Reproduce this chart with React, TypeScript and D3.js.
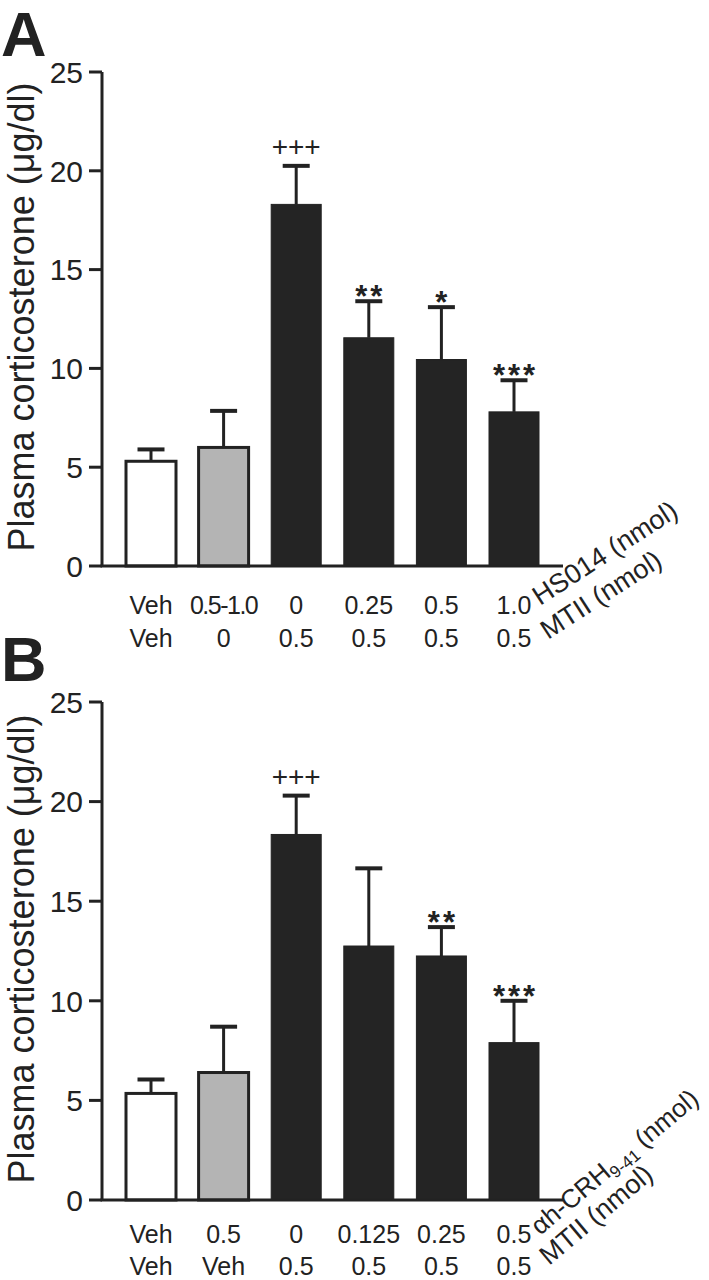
import React from "react";
import * as d3 from "d3";

// ---------- data ----------
const yTicks = [0, 5, 10, 15, 20, 25];

const drugLabelsA = ["Veh", "0.5-1.0", "0", "0.25", "0.5", "1.0"];
const mtiiLabelsA = ["Veh", "0", "0.5", "0.5", "0.5", "0.5"];
const meansA = [5.3, 6.0, 18.3, 11.55, 10.45, 7.8];
const semA = [0.6, 1.85, 1.95, 1.85, 2.65, 1.6];
const sigA = ["", "", "+++", "**", "*", "***"];

const drugLabelsB = ["Veh", "0.5", "0", "0.125", "0.25", "0.5"];
const mtiiLabelsB = ["Veh", "Veh", "0.5", "0.5", "0.5", "0.5"];
const meansB = [5.35, 6.4, 18.35, 12.75, 12.25, 7.9];
const semB = [0.7, 2.3, 1.95, 3.9, 1.45, 2.1];
const sigB = ["", "", "+++", "", "**", "***"];

const fillKinds = ["white", "gray", "black", "black", "black", "black"];

const FONT = "'Liberation Sans', Arial, Helvetica, sans-serif";
const INK = "#222";
const FILLS: Record<string, string> = { white: "#ffffff", gray: "#b4b4b4", black: "#242424" };

type PanelProps = {
  letter: string;
  letterY: number;
  top: number; // y of value 25
  bottom: number; // y of value 0
  means: number[];
  sems: number[];
  sig: string[];
  row1: string[];
  row2: string[];
  angle: number;
  rot1: React.ReactNode;
  rot1Size: number;
  rot1Pos: [number, number];
  rot2Pos: [number, number];
  row1Dy: number;
  row2Dy: number;
};

function Panel(p: PanelProps) {
  const axisX = 102;
  const y = d3.scaleLinear().domain([0, 25]).range([p.bottom, p.top]);
  const idx = p.means.map((_, i) => i);
  const x = d3.scalePoint<number>().domain(idx).range([151, 514]);
  const barW = 50;
  const capW = 27;
  const midY = (p.top + p.bottom) / 2;

  return (
    <g>
      <text x={1} y={p.letterY} fontFamily={FONT} fontWeight="bold" fontSize={63} fill={INK}>
        {p.letter}
      </text>
      {/* y label */}
      <text
        transform={`translate(34,${midY - 2}) rotate(-90)`}
        textAnchor="middle"
        fontFamily={FONT}
        fontSize={36}
        fill={INK}
      >
        Plasma corticosterone (μg/dl)
      </text>
      {/* y axis */}
      <line x1={axisX} x2={axisX} y1={y(25)} y2={y(0)} stroke={INK} strokeWidth={3} />
      {yTicks.map((t) => (
        <g key={t}>
          <line x1={axisX - 13} x2={axisX} y1={y(t)} y2={y(t)} stroke={INK} strokeWidth={3} />
          <text
            x={axisX - 19}
            y={y(t)}
            dy="0.36em"
            textAnchor="end"
            fontFamily={FONT}
            fontSize={30}
            fill={INK}
          >
            {t}
          </text>
        </g>
      ))}
      {/* bars */}
      {idx.map((i) => {
        const cx = x(i)!;
        const yTop = y(p.means[i]);
        const yErr = y(p.means[i] + p.sems[i]);
        const kind = fillKinds[i];
        const s = p.sig[i];
        const isPlus = s.startsWith("+");
        return (
          <g key={i}>
            <line x1={cx} x2={cx} y1={yTop} y2={yErr} stroke={INK} strokeWidth={3} />
            <line x1={cx - capW / 2} x2={cx + capW / 2} y1={yErr} y2={yErr} stroke={INK} strokeWidth={4} />
            <rect
              x={cx - barW / 2}
              y={yTop}
              width={barW}
              height={y(0) - yTop}
              fill={FILLS[kind]}
              stroke={INK}
              strokeWidth={kind === "black" ? 1 : 3}
            />
            {s && (
              <text
                x={cx + (isPlus ? 0 : 1.5)}
                y={isPlus ? yErr - 10 : yErr + 6}
                textAnchor="middle"
                fontFamily={FONT}
                fontWeight={isPlus ? "normal" : "bold"}
                fontSize={isPlus ? 28 : 31}
                letterSpacing={isPlus ? 0 : 3}
                fill={INK}
              >
                {s}
              </text>
            )}
          </g>
        );
      })}
      {/* x baseline */}
      <line x1={axisX - 1.5} x2={563} y1={y(0)} y2={y(0)} stroke={INK} strokeWidth={3} />
      {/* row labels */}
      {idx.map((i) => (
        <g key={"r" + i}>
          <text
            x={x(i)!}
            y={y(0) + p.row1Dy}
            textAnchor="middle"
            fontFamily={FONT}
            fontSize={25}
            letterSpacing={p.row1[i].length > 5 ? -1.5 : 0}
            fill={INK}
          >
            {p.row1[i]}
          </text>
          <text x={x(i)!} y={y(0) + p.row2Dy} textAnchor="middle" fontFamily={FONT} fontSize={25} fill={INK}>
            {p.row2[i]}
          </text>
        </g>
      ))}
      <text
        transform={`translate(${p.rot1Pos[0]},${p.rot1Pos[1]}) rotate(${p.angle})`}
        fontFamily={FONT}
        fontSize={p.rot1Size}
        fill={INK}
      >
        {p.rot1}
      </text>
      <text
        transform={`translate(${p.rot2Pos[0]},${p.rot2Pos[1]}) rotate(${p.angle})`}
        fontFamily={FONT}
        fontSize={27}
        fill={INK}
      >
        MTII (nmol)
      </text>
    </g>
  );
}

export default function App() {
  return (
    <svg
      width={709}
      height={1280}
      viewBox="0 0 709 1280"
      style={{ position: "absolute", left: 0, top: 0, background: "#fff" }}
    >
      <rect width={709} height={1280} fill="#fff" />
      <Panel
        letter="A"
        letterY={56}
        top={72}
        bottom={566}
        means={meansA}
        sems={semA}
        sig={sigA}
        row1={drugLabelsA}
        row2={mtiiLabelsA}
        angle={-33}
        rot1={"HS014 (nmol)"}
        rot1Size={27}
        rot1Pos={[540, 606]}
        rot2Pos={[548, 640]}
        row1Dy={48}
        row2Dy={81}
      />
      <Panel
        letter="B"
        letterY={681}
        top={702}
        bottom={1200}
        means={meansB}
        sems={semB}
        sig={sigB}
        row1={drugLabelsB}
        row2={mtiiLabelsB}
        angle={-40}
        rot1={
          <>
            <tspan>αh-CRH</tspan>
            <tspan fontSize={17} dy={5}>9-41</tspan>
            <tspan dy={-5}> (nmol)</tspan>
          </>
        }
        rot1Size={26}
        rot1Pos={[540, 1236]}
        rot2Pos={[549, 1266]}
        row1Dy={43}
        row2Dy={75}
      />
    </svg>
  );
}
